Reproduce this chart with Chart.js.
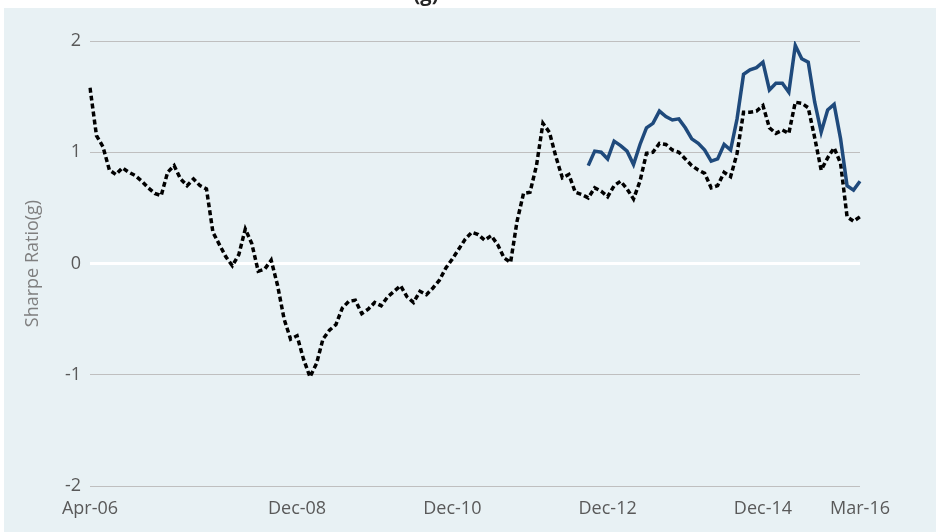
<!DOCTYPE html>
<html>
<head>
<meta charset="utf-8">
<script src="https://cdn.jsdelivr.net/npm/chart.js@4/dist/chart.umd.min.js"></script>
<style>
  html, body { margin: 0; padding: 0; background: #ffffff; }
  #wrap { width: 936px; height: 532px; position: relative; }
</style>
</head>
<body>
<div id="wrap"><canvas id="sharpeChart" width="936" height="532"></canvas></div>
<script>
// ── Data (monthly, Apr-06 .. Mar-16) ───────────────────────
const MONTHS = ["Jan","Feb","Mar","Apr","May","Jun","Jul","Aug","Sep","Oct","Nov","Dec"];
const START_YEAR = 2006, START_MONTH = 3, N_MONTHS = 120;

// tick labels shown on the x axis
const TICK_LABELS = ["Apr-06", "Dec-08", "Dec-10", "Dec-12", "Dec-14", "Mar-16"];

// dotted series (full period)
const DOTTED = [
  1.58, 1.15, 1.05, 0.84, 0.80, 0.86, 0.82, 0.79, 0.74, 0.68,
  0.63, 0.61, 0.82, 0.88, 0.76, 0.70, 0.76, 0.70, 0.67, 0.28,
  0.17, 0.06, -0.02, 0.08, 0.31, 0.18, -0.07, -0.05, 0.03, -0.20,
  -0.50, -0.68, -0.65, -0.86, -1.02, -0.90, -0.68, -0.60, -0.55, -0.40,
  -0.34, -0.33, -0.45, -0.41, -0.35, -0.38, -0.30, -0.25, -0.20, -0.30,
  -0.35, -0.25, -0.28, -0.22, -0.15, -0.04, 0.04, 0.13, 0.22, 0.28,
  0.26, 0.21, 0.25, 0.17, 0.05, 0.01, 0.38, 0.63, 0.64, 0.88,
  1.26, 1.18, 0.96, 0.77, 0.80, 0.64, 0.62, 0.59, 0.68, 0.65,
  0.60, 0.70, 0.74, 0.67, 0.58, 0.74, 0.99, 1.00, 1.08, 1.07,
  1.02, 1.00, 0.94, 0.88, 0.84, 0.81, 0.68, 0.70, 0.82, 0.78,
  0.99, 1.36, 1.36, 1.37, 1.42, 1.22, 1.17, 1.20, 1.17, 1.45,
  1.44, 1.40, 1.13, 0.84, 0.95, 1.04, 0.90, 0.42, 0.38, 0.42
];

// solid series (starts Sep-12)
const SOLID_START = "Sep-12";
const SOLID = [
  0.88, 1.01, 1.00, 0.94, 1.10, 1.06, 1.01, 0.89, 1.07, 1.22,
  1.26, 1.37, 1.32, 1.29, 1.30, 1.22, 1.12, 1.08, 1.02, 0.92,
  0.94, 1.07, 1.02, 1.30, 1.70, 1.74, 1.76, 1.81, 1.56, 1.62,
  1.62, 1.54, 1.96, 1.84, 1.81, 1.45, 1.18, 1.38, 1.43, 1.12,
  0.70, 0.66, 0.74
];

const Y_TICKS = [-2, -1, 0, 1, 2];

// ── Build labels ───────────────────────────────────────────
const labels = [];
for (let i = 0; i < N_MONTHS; i++) {
  const m = (START_MONTH + i) % 12;
  const y = START_YEAR + Math.floor((START_MONTH + i) / 12);
  labels.push(MONTHS[m] + "-" + String(y % 100).padStart(2, "0"));
}
const solidOffset = labels.indexOf(SOLID_START);
const solidData = labels.map((_, i) => (i >= solidOffset ? SOLID[i - solidOffset] : null));

const FONT = "'Open Sans', 'Noto Sans', sans-serif";

// light panel behind the plot, title peeking at the top
const panelBg = {
  id: "panelBg",
  beforeDraw(chart) {
    const { ctx } = chart;
    ctx.save();
    ctx.fillStyle = "#e8f1f4";
    ctx.fillRect(4, 8, chart.width - 4, chart.height - 8);
    ctx.fillStyle = "#262626";
    ctx.font = "bold 20px " + FONT;
    ctx.textAlign = "center";
    ctx.textBaseline = "alphabetic";
    ctx.fillText("(g)", 426, 1);
    ctx.restore();
  }
};

new Chart(document.getElementById("sharpeChart"), {
  type: "line",
  data: {
    labels,
    datasets: [
      {
        label: "Solid",
        data: solidData,
        borderColor: "#1f4a7c",
        borderWidth: 3.5,
        pointRadius: 0,
        tension: 0,
        spanGaps: false
      },
      {
        label: "Dotted",
        data: DOTTED,
        borderColor: "#000000",
        borderWidth: 3.5,
        borderDash: [5, 3],
        borderCapStyle: "butt",
        pointRadius: 0,
        tension: 0
      }
    ]
  },
  options: {
    responsive: false,
    animation: false,
    layout: { padding: { top: 41, right: 76, left: 22, bottom: 0 } },
    scales: {
      x: {
        type: "category",
        offset: false,
        grid: { display: false },
        border: { display: false },
        ticks: {
          autoSkip: false,
          maxRotation: 0,
          padding: 4,
          color: "#595959",
          font: { family: FONT, size: 18 },
          callback: (v, i) => (TICK_LABELS.includes(labels[i]) ? labels[i] : "")
        },
        afterFit: s => { s.height = 46; }
      },
      y: {
        min: -2,
        max: 2,
        afterBuildTicks: s => { s.ticks = Y_TICKS.map(v => ({ value: v })); },
        grid: {
          drawTicks: false,
          color: c => (c.tick.value === 0 ? "#ffffff" : "#bfbfbf"),
          lineWidth: c => (c.tick.value === 0 ? 3 : 1)
        },
        border: { display: false },
        ticks: {
          padding: 9,
          color: "#595959",
          font: { family: FONT, size: 18 }
        },
        title: {
          display: true,
          text: "Sharpe Ratio(g)",
          color: "#7f7f7f",
          font: { family: FONT, size: 18 },
          padding: { top: 0, bottom: 0 }
        },
        afterFit: s => { s.width = 68; }
      }
    },
    plugins: {
      legend: { display: false },
      tooltip: { enabled: false }
    }
  },
  plugins: [panelBg]
});
</script>
</body>
</html>
